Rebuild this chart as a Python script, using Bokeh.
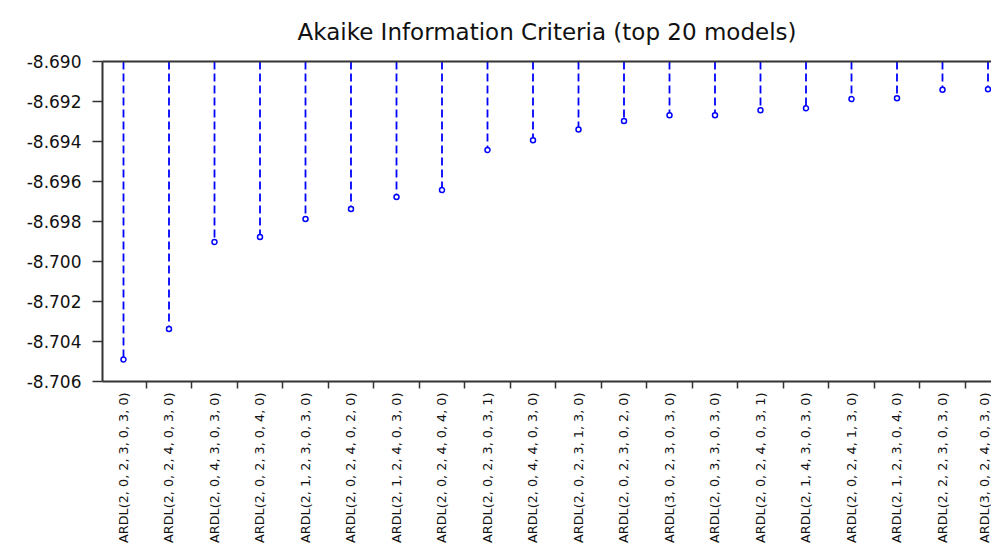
import math
from bokeh.plotting import figure
from bokeh.models import Range1d, FixedTicker, NumeralTickFormatter, LinearAxis
from bokeh.embed import file_html
from bokeh.resources import INLINE

# ---- data ----
models = [
    "ARDL(2, 0, 2, 3, 0, 3, 0)",
    "ARDL(2, 0, 2, 4, 0, 3, 0)",
    "ARDL(2, 0, 4, 3, 0, 3, 0)",
    "ARDL(2, 0, 2, 3, 0, 4, 0)",
    "ARDL(2, 1, 2, 3, 0, 3, 0)",
    "ARDL(2, 0, 2, 4, 0, 2, 0)",
    "ARDL(2, 1, 2, 4, 0, 3, 0)",
    "ARDL(2, 0, 2, 4, 0, 4, 0)",
    "ARDL(2, 0, 2, 3, 0, 3, 1)",
    "ARDL(2, 0, 4, 4, 0, 3, 0)",
    "ARDL(2, 0, 2, 3, 1, 3, 0)",
    "ARDL(2, 0, 2, 3, 0, 2, 0)",
    "ARDL(3, 0, 2, 3, 0, 3, 0)",
    "ARDL(2, 0, 3, 3, 0, 3, 0)",
    "ARDL(2, 0, 2, 4, 0, 3, 1)",
    "ARDL(2, 1, 4, 3, 0, 3, 0)",
    "ARDL(2, 0, 2, 4, 1, 3, 0)",
    "ARDL(2, 1, 2, 3, 0, 4, 0)",
    "ARDL(2, 2, 2, 3, 0, 3, 0)",
    "ARDL(3, 0, 2, 4, 0, 3, 0)",
]
aic = [
    -8.70490, -8.70337, -8.69902, -8.69877, -8.69788,
    -8.69738, -8.69678, -8.69643, -8.69442, -8.69394,
    -8.69340, -8.69297, -8.69269, -8.69269, -8.69244,
    -8.69234, -8.69188, -8.69184, -8.69141, -8.69139,
]
y_ticks = [-8.690, -8.692, -8.694, -8.696, -8.698, -8.700, -8.702, -8.704, -8.706]
y_top = -8.690
y_bottom = -8.706

idx = list(range(len(models)))

p = figure(
    width=991, height=545,
    output_backend="svg", toolbar_location=None,
    x_range=Range1d(-0.4615, 19.077),
    y_range=Range1d(y_bottom, y_top),
    min_border_left=102, min_border_right=0, min_border_top=60, min_border_bottom=0,
)
p.outline_line_color = None
p.background_fill_color = "white"
p.border_fill_color = "white"
p.xgrid.visible = False
p.ygrid.visible = False

# title
p.title.text = "Akaike Information Criteria (top 20 models)"
p.title.text_font = "DejaVu Sans"
p.title.text_font_size = "23px"
p.title.text_font_style = "normal"
p.title.text_color = "#111111"
p.title.align = "center"
p.title.offset = 11
p.title.standoff = 33

axis_color = "#333333"

# x axis
xa = p.xaxis[0]
xa.ticker = FixedTicker(ticks=idx, minor_ticks=[i - 0.5 for i in range(len(models) + 1)])
xa.major_label_overrides = {i: m for i, m in enumerate(models)}
xa.major_label_orientation = math.pi / 2
xa.major_label_text_font = "DejaVu Sans"
xa.major_label_text_font_size = "12.8px"
xa.major_label_text_color = "#111111"
xa.major_label_standoff = 4
xa.major_tick_in = 0
xa.major_tick_out = 0
xa.minor_tick_in = 0
xa.minor_tick_out = 7
xa.minor_tick_line_color = axis_color
xa.minor_tick_line_width = 1.5
xa.axis_line_color = axis_color
xa.axis_line_width = 2

# y axis
ya = p.yaxis[0]
ya.ticker = FixedTicker(ticks=y_ticks, minor_ticks=[])
ya.formatter = NumeralTickFormatter(format="0.000")
ya.major_label_text_font = "DejaVu Sans"
ya.major_label_text_font_size = "17px"
ya.major_label_text_color = "#111111"
ya.major_label_standoff = 11
ya.major_tick_in = 0
ya.major_tick_out = 10
ya.major_tick_line_color = axis_color
ya.major_tick_line_width = 1.5
ya.axis_line_color = axis_color
ya.axis_line_width = 2

# top frame line
top_axis = LinearAxis(
    ticker=FixedTicker(ticks=[]),
    major_label_text_font_size="0px",
    major_tick_out=0, major_tick_in=0, minor_tick_out=0, minor_tick_in=0,
    axis_line_color=axis_color, axis_line_width=2,
)
p.add_layout(top_axis, "above")

# stems (from top of axis down to value)
p.segment(x0=idx, y0=[y_top] * len(idx), x1=idx, y1=aic,
          line_color="#0000FF", line_width=1.8, line_dash="8 4")
p.scatter(x=idx, y=aic, marker="circle", size=5,
          line_color="#0000FF", fill_color="white", line_width=1.5)

open("out.html", "w").write(file_html(p, INLINE))
